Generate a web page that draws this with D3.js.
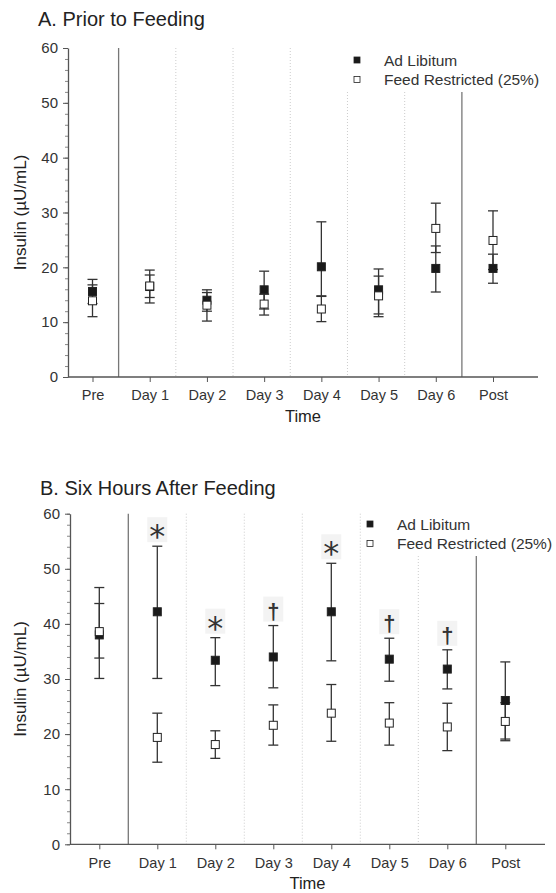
<!DOCTYPE html>
<html>
<head>
<meta charset="utf-8">
<script src="https://cdn.jsdelivr.net/npm/d3@7"></script>
<style>
  body { margin: 0; background: #fff; }
  svg { display: block; font-family: "Liberation Sans", Arial, sans-serif; }
</style>
</head>
<body>
<div id="chart"></div>
<script>
// categories and ticks
var categories = ['Pre', 'Day 1', 'Day 2', 'Day 3', 'Day 4', 'Day 5', 'Day 6', 'Post'];
var yTicks = [0, 10, 20, 30, 40, 50, 60];
var yMinorTicks = d3.range(0, 61, 2);
var seriesNames = ['Ad Libitum', 'Feed Restricted (25%)'];

// A. Prior to Feeding
var aAdLib = [15.6, 16.5, 14.0, 15.9, 20.1, 15.9, 19.8, 19.8];
var aAdLibLo = [13.4, 14.5, 12.0, 12.4, 14.8, 11.0, 15.5, 17.1];
var aAdLibHi = [17.8, 18.6, 15.9, 19.3, 28.3, 19.7, 23.9, 22.4];
var aRestr = [13.9, 16.6, 13.1, 13.3, 12.4, 14.8, 27.1, 24.9];
var aRestrLo = [11.0, 13.5, 10.2, 11.3, 10.1, 11.5, 22.7, 19.6];
var aRestrHi = [16.8, 19.5, 15.4, 15.1, 14.7, 18.4, 31.7, 30.3];

// B. Six Hours After Feeding
var bAdLib = [38.0, 42.2, 33.4, 34.0, 42.2, 33.6, 31.8, 26.1];
var bAdLibLo = [33.8, 30.1, 28.8, 28.4, 33.3, 29.6, 28.2, 19.1];
var bAdLibHi = [43.7, 54.1, 37.5, 39.7, 51.0, 37.4, 35.3, 33.1];
var bRestr = [38.6, 19.4, 18.1, 21.6, 23.8, 22.0, 21.3, 22.3];
var bRestrLo = [30.1, 14.9, 15.6, 18.0, 18.7, 18.0, 17.0, 18.8];
var bRestrHi = [46.6, 23.8, 20.6, 25.3, 29.0, 25.7, 25.6, 25.7];
var bMarks = ['', '*', '*', '\u2020', '*', '\u2020', '\u2020', ''];

var width = 556;
var height = 893;
var svg = d3.select('#chart')
    .append('svg')
    .attr('width', width)
    .attr('height', height);

function drawPanel(cfg) {
  var g = svg.append('g');

  var y = d3.scaleLinear()
      .domain([0, 60])
      .range([cfg.y0, cfg.y60]);
  var x = d3.scalePoint()
      .domain(categories)
      .range([cfg.xFirst, cfg.xLast]);
  var step = x.step();

  // Title
  g.append('text')
      .attr('x', cfg.titleX)
      .attr('y', cfg.titleY)
      .attr('font-size', 20)
      .attr('fill', '#222')
      .text(cfg.title);

  // Separators (solid after Pre and before Post, dotted between days)
  var legendBottom = cfg.legendY + 32;
  g.append('g').selectAll('line')
      .data(categories.slice(0, -1))
      .enter()
      .append('line')
      .attr('x1', function(d) { return x(d) + step / 2 + cfg.sepShift; })
      .attr('x2', function(d) { return x(d) + step / 2 + cfg.sepShift; })
      .attr('y1', function(d) {
        return x(d) + step / 2 > cfg.legendX - 8 ? legendBottom : y(60);
      })
      .attr('y2', y(0))
      .attr('stroke', function(d, i) {
        return (i === 0 || i === categories.length - 2) ? '#777' : '#ccc';
      })
      .attr('stroke-width', function(d, i) {
        return (i === 0 || i === categories.length - 2) ? 1.3 : 1;
      })
      .attr('stroke-dasharray', function(d, i) {
        return (i === 0 || i === categories.length - 2) ? null : '1,2';
      });

  // Y axis
  var minorAxis = d3.axisLeft(y).tickValues(yMinorTicks).tickSize(3).tickFormat('');
  g.append('g')
      .attr('transform', 'translate(' + cfg.xAxisLeft + ',0)')
      .call(minorAxis)
      .call(function(s) { s.select('.domain').remove(); })
      .selectAll('line').attr('stroke', '#888');
  var axisY = d3.axisLeft(y).tickValues(yTicks).tickSize(5).tickSizeOuter(0).tickPadding(5);
  var gy = g.append('g')
      .attr('transform', 'translate(' + cfg.xAxisLeft + ',0)')
      .call(axisY);
  gy.select('.domain').attr('stroke', '#555').attr('stroke-width', 1.3);
  gy.selectAll('.tick line').attr('stroke', '#555');
  gy.selectAll('text')
      .attr('font-size', 15)
      .attr('font-family', '"Liberation Sans", Arial, sans-serif')
      .attr('fill', '#333');

  // X axis
  var axisX = d3.axisBottom(x).tickSize(5).tickSizeOuter(0).tickPadding(8);
  var gx = g.append('g')
      .attr('transform', 'translate(0,' + cfg.y0 + ')')
      .call(axisX);
  gx.select('.domain').remove();
  gx.append('line')
      .attr('x1', cfg.xAxisLeft)
      .attr('x2', cfg.xAxisRight)
      .attr('stroke', '#555')
      .attr('stroke-width', 1.3);
  gx.selectAll('.tick line').attr('stroke', '#555');
  gx.selectAll('text')
      .attr('font-size', 14.5)
      .attr('font-family', '"Liberation Sans", Arial, sans-serif')
      .attr('fill', '#333');

  // Axis titles
  g.append('text')
      .attr('x', (cfg.xAxisLeft + cfg.xAxisRight) / 2)
      .attr('y', cfg.y0 + cfg.timeDy)
      .attr('text-anchor', 'middle')
      .attr('font-size', 16.5)
      .attr('fill', '#222')
      .text('Time');
  g.append('text')
      .attr('transform', 'translate(26,' + (cfg.y0 + cfg.y60) / 2 + ') rotate(-90)')
      .attr('text-anchor', 'middle')
      .attr('font-size', 17)
      .attr('fill', '#222')
      .text('Insulin (\u00b5U/mL)');

  // Error bars, drawn ad libitum first then restricted on top
  var series = [
    {mean: cfg.adLib, lo: cfg.adLibLo, hi: cfg.adLibHi, fill: '#1a1a1a'},
    {mean: cfg.restr, lo: cfg.restrLo, hi: cfg.restrHi, fill: '#fff'}
  ];
  var capW = 5;
  series.forEach(function(s) {
    var bars = g.append('g').selectAll('g')
        .data(categories)
        .enter()
        .append('g');
    bars.append('line')
        .attr('x1', function(d) { return x(d); })
        .attr('x2', function(d) { return x(d); })
        .attr('y1', function(d, i) { return y(s.lo[i]); })
        .attr('y2', function(d, i) { return y(s.hi[i]); })
        .attr('stroke', '#333')
        .attr('stroke-width', 1.3);
    bars.append('line')
        .attr('x1', function(d) { return x(d) - capW; })
        .attr('x2', function(d) { return x(d) + capW; })
        .attr('y1', function(d, i) { return y(s.hi[i]); })
        .attr('y2', function(d, i) { return y(s.hi[i]); })
        .attr('stroke', '#333')
        .attr('stroke-width', 1.3);
    bars.append('line')
        .attr('x1', function(d) { return x(d) - capW; })
        .attr('x2', function(d) { return x(d) + capW; })
        .attr('y1', function(d, i) { return y(s.lo[i]); })
        .attr('y2', function(d, i) { return y(s.lo[i]); })
        .attr('stroke', '#333')
        .attr('stroke-width', 1.3);
  });
  series.forEach(function(s) {
    g.append('g').selectAll('rect')
        .data(categories)
        .enter()
        .append('rect')
        .attr('x', function(d) { return x(d) - 4; })
        .attr('y', function(d, i) { return y(s.mean[i]) - 4; })
        .attr('width', 8)
        .attr('height', 8)
        .attr('fill', s.fill)
        .attr('stroke', '#222')
        .attr('stroke-width', 1);
  });

  // Significance marks above ad libitum bars
  if (cfg.marks) {
    var mk = g.append('g').selectAll('g')
        .data(categories.filter(function(d, i) { return cfg.marks[i]; }))
        .enter()
        .append('g')
        .attr('transform', function(d) {
          var i = categories.indexOf(d);
          return 'translate(' + x(d) + ',' + (y(cfg.adLibHi[i]) - 16) + ')';
        });
    mk.append('rect')
        .attr('x', -10)
        .attr('y', -13)
        .attr('width', 20)
        .attr('height', 25)
        .attr('fill', '#f3f3f3');
    mk.append('text')
        .attr('text-anchor', 'middle')
        .attr('y', function(d) { return cfg.marks[categories.indexOf(d)] === '*' ? 17 : 9; })
        .attr('font-family', function(d) {
          return cfg.marks[categories.indexOf(d)] === '*' ? '"DejaVu Sans", sans-serif' : '"Liberation Sans", Arial, sans-serif';
        })
        .attr('font-size', function(d) { return cfg.marks[categories.indexOf(d)] === '*' ? 32 : 22; })
        .attr('font-weight', function(d) { return cfg.marks[categories.indexOf(d)] === '*' ? 'normal' : 'bold'; })
        .attr('fill', '#333')
        .text(function(d) { return cfg.marks[categories.indexOf(d)]; });
  }

  // Legend
  var legend = g.append('g').selectAll('g')
      .data(seriesNames)
      .enter()
      .append('g')
      .attr('transform', function(d, i) {
        return 'translate(' + cfg.legendX + ',' + (cfg.legendY + i * 19.5) + ')';
      });
  legend.append('rect')
      .attr('x', -3)
      .attr('y', -3)
      .attr('width', 6)
      .attr('height', 6)
      .attr('fill', function(d, i) { return series[i].fill; })
      .attr('stroke', '#222')
      .attr('stroke-width', 0.8);
  legend.append('text')
      .attr('x', 27)
      .attr('y', 5.5)
      .attr('font-size', 15.5)
      .attr('fill', '#333')
      .text(function(d) { return d; });
}

drawPanel({
  title: 'A. Prior to Feeding', titleX: 38, titleY: 26,
  y0: 377, y60: 48, xFirst: 92.5, xLast: 493,
  xAxisLeft: 68, xAxisRight: 538, sepShift: -2.5,
  timeDy: 45, legendX: 357, legendY: 60,
  adLib: aAdLib, adLibLo: aAdLibLo, adLibHi: aAdLibHi,
  restr: aRestr, restrLo: aRestrLo, restrHi: aRestrHi
});

drawPanel({
  title: 'B. Six Hours After Feeding', titleX: 40, titleY: 495,
  y0: 844.3, y60: 513.7, xFirst: 99.3, xLast: 505.3,
  xAxisLeft: 70, xAxisRight: 545, sepShift: 0,
  timeDy: 45, legendX: 370, legendY: 524,
  adLib: bAdLib, adLibLo: bAdLibLo, adLibHi: bAdLibHi,
  restr: bRestr, restrLo: bRestrLo, restrHi: bRestrHi,
  marks: bMarks
});
</script>
</body>
</html>
